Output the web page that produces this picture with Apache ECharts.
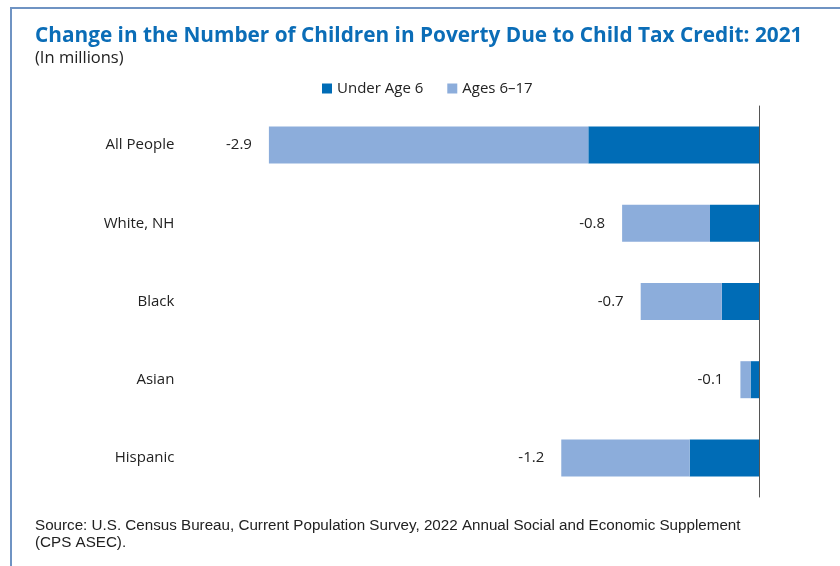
<!DOCTYPE html>
<html><head><meta charset="utf-8">
<script src="https://cdn.jsdelivr.net/npm/echarts@6/dist/echarts.min.js"></script>
<style>html,body{margin:0;padding:0;background:#fff}#c{width:840px;height:566px}</style>
</head><body><div id="c"></div>
<script>
const categories = ['All People', 'White, NH', 'Black', 'Asian', 'Hispanic'];
const under6 = [-1.01, -0.29, -0.22, -0.05, -0.41];
const ages6to17 = [-1.89, -0.52, -0.48, -0.06, -0.76];
const totals = [-2.9, -0.8, -0.7, -0.1, -1.2];
const seriesNames = ['Under Age 6', 'Ages 6\u201317'];

const chart = echarts.init(document.getElementById('c'));
chart.setOption({
  animation: false,
  backgroundColor: '#fff',
  textStyle: { fontFamily: 'Open Sans' },
  title: [{
    text: 'Change in the Number of Children in Poverty Due to Child Tax Credit: 2021',
    left: 30, top: 21,
    textStyle: { fontFamily: 'Open Sans', fontWeight: 'bold', fontSize: 20.8, color: '#0b6db7' }
  }, {
    text: '(In millions)',
    left: 30, top: 45,
    textStyle: { fontFamily: 'Open Sans', fontWeight: 'normal', fontSize: 16.5, color: '#222' }
  }, {
    text: 'Source: U.S. Census Bureau, Current Population Survey, 2022 Annual Social and Economic Supplement\n(CPS ASEC).',
    left: 30, top: 512,
    textStyle: { fontFamily: 'Liberation Sans', fontWeight: 'normal', fontSize: 15.2, color: '#222', lineHeight: 17 }
  }],
  graphic: [{
    type: 'polyline',
    shape: { points: [[11, 600], [11, 8], [860, 8]] },
    style: { stroke: '#6f93c3', lineWidth: 2, fill: null }
  }],
  legend: {
    top: 76, left: 317,
    itemWidth: 10, itemHeight: 10, itemGap: 24,
    icon: 'rect',
    textStyle: { fontFamily: 'Open Sans', fontSize: 15, color: '#222' },
    data: seriesNames
  },
  grid: { left: 184.4, right: 81, top: 106, bottom: 69, containLabel: false },
  xAxis: {
    type: 'value', min: -3.4, max: 0,
    show: false
  },
  yAxis: [{
    type: 'category', data: categories, inverse: true, position: 'left',
    axisLine: { show: false }, axisTick: { show: false },
    axisLabel: { margin: 10, fontFamily: 'Open Sans', fontSize: 15, color: '#222' }
  }, {
    type: 'category', data: categories, inverse: true, position: 'right',
    axisLine: { show: true, onZero: false, lineStyle: { color: '#555', width: 1 } },
    axisTick: { show: false }, axisLabel: { show: false }
  }],
  series: [{
    name: seriesNames[0], type: 'bar', stack: 'total', data: under6,
    barWidth: 37, itemStyle: { color: '#006cb6' }
  }, {
    name: seriesNames[1], type: 'bar', stack: 'total', data: ages6to17,
    barWidth: 37, itemStyle: { color: '#8caddb' },
    label: {
      show: true, position: 'left', distance: 17,
      fontFamily: 'Open Sans', fontSize: 15, color: '#222',
      formatter: p => totals[p.dataIndex].toFixed(1)
    }
  }]
});
</script></body></html>
